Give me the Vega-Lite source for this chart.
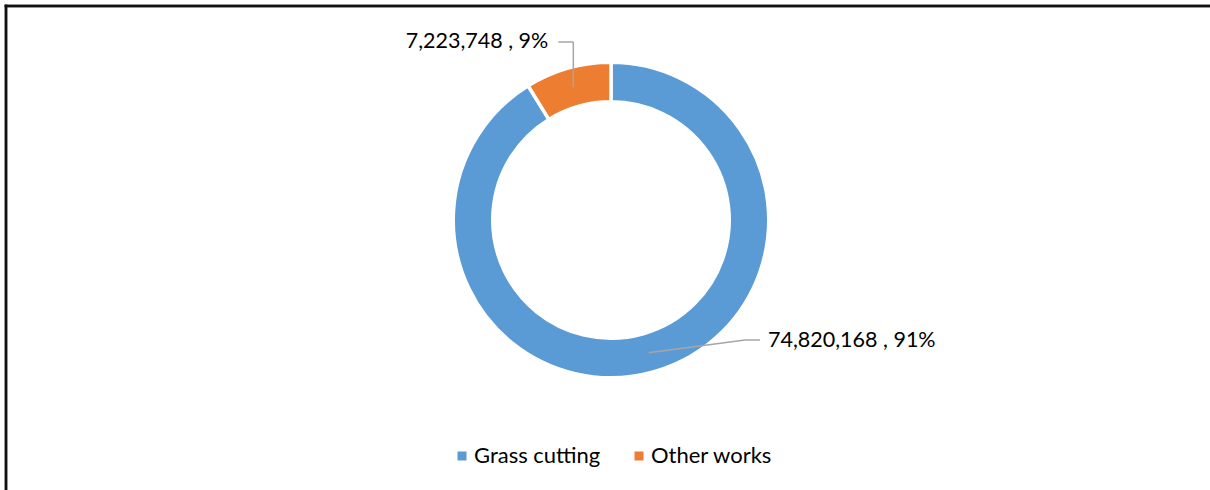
{
  "$schema": "https://vega.github.io/schema/vega-lite/v6.json",
  "width": 1204,
  "height": 484,
  "autosize": {"type": "none"},
  "padding": {"left": 6, "top": 6, "right": 0, "bottom": 0},
  "background": "white",
  "config": {
    "view": {"stroke": null},
    "font": "Lato"
  },
  "data": {
    "values": [
      {"category": "Grass cutting", "value": 74820168},
      {"category": "Other works", "value": 7223748}
    ]
  },
  "layer": [
    {
      "mark": {"type": "arc", "outerRadius": 157.75, "innerRadius": 118.25, "stroke": "white", "strokeWidth": 3.5},
      "encoding": {
        "theta": {"field": "value", "type": "quantitative", "stack": true},
        "color": {
          "field": "category",
          "type": "nominal",
          "scale": {"domain": ["Grass cutting", "Other works"], "range": ["#5B9BD5", "#ED7D31"]},
          "legend": {
            "title": null,
            "orient": "none",
            "legendX": 445,
            "legendY": 439,
            "direction": "horizontal",
            "symbolType": "square",
            "symbolSize": 81,
            "symbolStrokeWidth": 0,
            "labelFont": "Lato",
            "labelFontSize": 22,
            "labelColor": "#000000",
            "labelOffset": 1,
            "columnPadding": 27,
            "padding": 0
          }
        },
        "x": {"datum": 0, "type": "quantitative", "scale": {"domain": [-605, 599], "nice": false, "zero": false}, "axis": null},
        "y": {"datum": 0, "type": "quantitative", "scale": {"domain": [-270, 214], "nice": false, "zero": false}, "axis": null}
      }
    },
    {
      "mark": {"type": "rule", "color": "#111111", "strokeWidth": 2.5, "strokeCap": "square"},
      "encoding": {
        "x": {"datum": -605, "type": "quantitative", "axis": null}
      }
    },
    {
      "mark": {"type": "rule", "color": "#111111", "strokeWidth": 2.5, "strokeCap": "square"},
      "encoding": {
        "y": {"datum": 214, "type": "quantitative", "axis": null}
      }
    },
    {
      "transform": [
        {"joinaggregate": [{"op": "sum", "field": "value", "as": "total"}]},
        {"window": [{"op": "sum", "field": "value", "as": "cum"}], "frame": [null, 0]},
        {"calculate": "2*PI*(datum.cum - datum.value/2)/datum.total", "as": "mid"},
        {"calculate": "138*sin(datum.mid)", "as": "sx"},
        {"calculate": "138*cos(datum.mid)", "as": "sy"},
        {"calculate": "sin(datum.mid) < 0 ? datum.sx : 134", "as": "ex"},
        {"calculate": "sin(datum.mid) < 0 ? 178 : -120", "as": "ey"}
      ],
      "mark": {"type": "rule", "color": "#A6A6A6", "strokeWidth": 1.5},
      "encoding": {
        "x": {"field": "sx", "type": "quantitative", "axis": null},
        "y": {"field": "sy", "type": "quantitative", "axis": null},
        "x2": {"field": "ex"},
        "y2": {"field": "ey"}
      }
    },
    {
      "transform": [
        {"joinaggregate": [{"op": "sum", "field": "value", "as": "total"}]},
        {"window": [{"op": "sum", "field": "value", "as": "cum"}], "frame": [null, 0]},
        {"calculate": "2*PI*(datum.cum - datum.value/2)/datum.total", "as": "mid"},
        {"calculate": "138*sin(datum.mid)", "as": "sx"},
        {"calculate": "sin(datum.mid) < 0 ? datum.sx : 134", "as": "ex"},
        {"calculate": "sin(datum.mid) < 0 ? datum.sx - 15 : 149", "as": "fx"},
        {"calculate": "sin(datum.mid) < 0 ? 178 : -120", "as": "ey"}
      ],
      "mark": {"type": "rule", "color": "#A6A6A6", "strokeWidth": 1.5},
      "encoding": {
        "x": {"field": "ex", "type": "quantitative", "axis": null},
        "y": {"field": "ey", "type": "quantitative", "axis": null},
        "x2": {"field": "fx"}
      }
    },
    {
      "transform": [
        {"joinaggregate": [{"op": "sum", "field": "value", "as": "total"}]},
        {"window": [{"op": "sum", "field": "value", "as": "cum"}], "frame": [null, 0]},
        {"calculate": "2*PI*(datum.cum - datum.value/2)/datum.total", "as": "mid"},
        {"filter": "sin(datum.mid) < 0"},
        {"calculate": "138*sin(datum.mid) - 25", "as": "tx"},
        {"calculate": "format(datum.value, ',') + ' , ' + format(datum.value/datum.total, '.0%')", "as": "label"}
      ],
      "mark": {"type": "text", "align": "right", "baseline": "middle", "fontSize": 21.5, "font": "Lato", "color": "#000000"},
      "encoding": {
        "x": {"field": "tx", "type": "quantitative", "axis": null},
        "y": {"datum": 178, "type": "quantitative", "axis": null},
        "text": {"field": "label"}
      }
    },
    {
      "transform": [
        {"joinaggregate": [{"op": "sum", "field": "value", "as": "total"}]},
        {"window": [{"op": "sum", "field": "value", "as": "cum"}], "frame": [null, 0]},
        {"calculate": "2*PI*(datum.cum - datum.value/2)/datum.total", "as": "mid"},
        {"filter": "sin(datum.mid) >= 0"},
        {"calculate": "format(datum.value, ',') + ' , ' + format(datum.value/datum.total, '.0%')", "as": "label"}
      ],
      "mark": {"type": "text", "align": "left", "baseline": "middle", "fontSize": 21.5, "font": "Lato", "color": "#000000"},
      "encoding": {
        "x": {"datum": 157, "type": "quantitative", "axis": null},
        "y": {"datum": -121, "type": "quantitative", "axis": null},
        "text": {"field": "label"}
      }
    }
  ]
}
